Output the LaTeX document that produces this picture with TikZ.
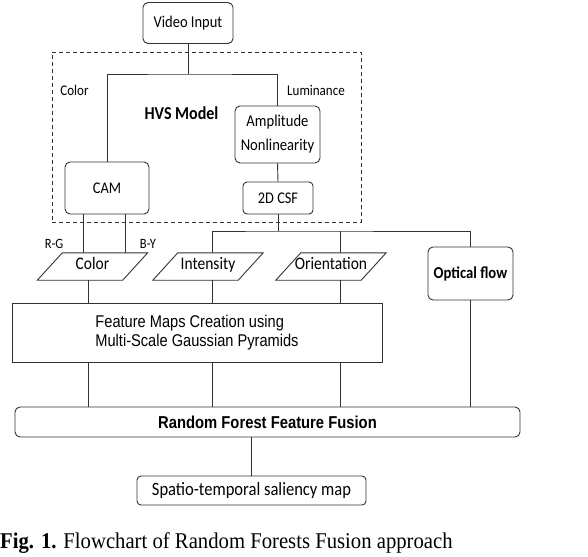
\documentclass[tikz,border=0pt]{standalone}
\usepackage{fontspec}
\setmainfont{Carlito}[FakeStretch=0.88]
\newfontfamily\arialf{Liberation Sans}[FakeStretch=0.86]
\newfontfamily\timesf{Liberation Serif}[FakeStretch=0.92]
\usetikzlibrary{calc}
\begin{document}
\begin{tikzpicture}[x=1pt,y=-1pt,
  line/.style={draw=black!80, line width=0.9pt},
  rbox/.style={draw=black!80, line width=0.9pt, rounded corners=5pt, inner sep=0pt, font=\fontsize{16.5}{19}\selectfont},
  lbl/.style={inner sep=0pt, font=\fontsize{14.8}{16}\selectfont},
  paranode/.style={minimum width=85pt, minimum height=27pt, inner sep=0pt, text height=11pt, text depth=6pt, font=\fontsize{17.6}{19}\selectfont}
]
\useasboundingbox (0,0) rectangle (588,556);
% HVS dashed region
\node[draw=black!80, line width=0.9pt, dash pattern=on 4pt off 3pt, minimum width=309pt, minimum height=170pt, inner sep=0pt] (hvs) at (206.5,137) {};
\node[inner sep=0pt, font=\fontsize{18.2}{20}\selectfont\bfseries] (hvslbl) at (181.5,113) {HVS Model};
\node[lbl] (colorlbl) at (74.5,90) {Color};
\node[lbl] (lumlbl) at (316,90) {Luminance};
% boxes
\node[rbox, minimum width=90pt, minimum height=41pt] (vin) at (188,23) {Video Input};
\node[rbox, minimum width=85pt, minimum height=57pt, align=center, font=\fontsize{16.6}{24}\selectfont] (amp) at (277.5,134.5) {Amplitude\\Nonlinearity};
\node[rbox, minimum width=84pt, minimum height=52pt, font=\fontsize{16.3}{19}\selectfont] (cam) at (107,188) {CAM};
\node[rbox, minimum width=70pt, minimum height=32pt, rounded corners=4pt, font=\fontsize{16.3}{19}\selectfont] (csf) at (278,198) {2D CSF};
\node[rbox, minimum width=85pt, minimum height=53pt, font=\fontsize{16.7}{19}\selectfont\bfseries] (opt) at (470.5,273.5) {Optical flow};
% parallelograms
\node[paranode] (col) at (92.5,266.5) {Color};
\node[paranode] (int) at (208,266.5) {Intensity};
\node[paranode] (ori) at (331,266.5) {Orientation};
\foreach \p in {col,int,ori}{
  \draw[line] ([xshift=-12.5pt]\p.south west) -- ([xshift=-12.5pt]\p.south east) -- ([xshift=12.5pt]\p.north east) -- ([xshift=12.5pt]\p.north west) -- cycle;
}
\node[lbl, font=\fontsize{14.2}{16}\selectfont] (rglbl) at (54,244) {R-G};
\node[lbl, font=\fontsize{14.2}{16}\selectfont] (bylbl) at (148,244) {B-Y};
% feature maps
\node[draw=black!80, line width=0.9pt, minimum width=370pt, minimum height=59pt, inner sep=0pt, align=left, font=\arialf\fontsize{17}{19.5}\selectfont] (fm) at (197,332.5) {Feature Maps Creation using\\Multi-Scale Gaussian Pyramids};
% random forest
\node[rbox, minimum width=505pt, minimum height=30pt, font=\arialf\fontsize{17.2}{19}\selectfont\bfseries] (rf) at (267.5,422) {Random Forest Feature Fusion};
\node[rbox, minimum width=229pt, minimum height=29pt, rounded corners=4pt, font=\fontsize{18.8}{21}\selectfont] (st) at (251.5,490.5) {Spatio-temporal saliency map};
% caption
\node[anchor=west, inner sep=0pt, font=\timesf\fontsize{22.5}{26}\selectfont] (cap) at (0,543) {\textbf{Fig. 1.} Flowchart of Random Forests Fusion approach};
% connectors
\coordinate (split1) at (188,74);
\coordinate (split2) at (278,231);
\draw[line] (vin.south) -- (split1);
\draw[line] (cam.north) |- (split1) -| (amp.north);
\draw[line] (amp.south) -- (csf.north);
\draw[line] (csf.south) -- (split2);
\draw[line] ([xshift=4pt]int.north) |- (split2) -| (opt.north);
\draw[line] ([xshift=9pt]ori.north) -- ([xshift=9pt]ori.north |- split2);
\draw[line] ([xshift=-24pt]cam.south) -- ([xshift=-24pt]cam.south |- col.north);
\draw[line] ([xshift=18pt]cam.south) -- ([xshift=18pt]cam.south |- col.north);
\draw[line] ([xshift=-4.5pt]col.south) -- ([xshift=-4.5pt]col.south |- fm.north);
\draw[line] ([xshift=4pt]int.south) -- ([xshift=4pt]int.south |- fm.north);
\draw[line] ([xshift=9pt]ori.south) -- ([xshift=9pt]ori.south |- fm.north);
\draw[line] ([xshift=-4.5pt]col.south |- fm.south) -- ([xshift=-4.5pt]col.south |- rf.north);
\draw[line] ([xshift=4pt]int.south |- fm.south) -- ([xshift=4pt]int.south |- rf.north);
\draw[line] ([xshift=9pt]ori.south |- fm.south) -- ([xshift=9pt]ori.south |- rf.north);
\draw[line] (opt.south) -- (opt.south |- rf.north);
\draw[line] (st.north |- rf.south) -- (st.north);
\end{tikzpicture}
\end{document}
